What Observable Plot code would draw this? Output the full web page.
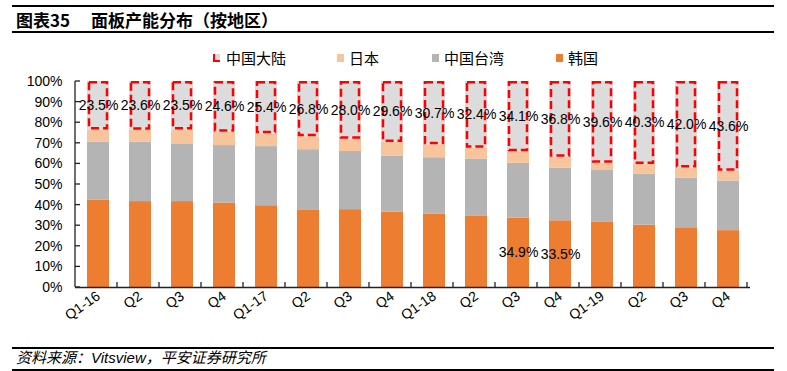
<!DOCTYPE html>
<html><head><meta charset="utf-8">
<script src="https://cdn.jsdelivr.net/npm/d3@7"></script>
<script src="https://cdn.jsdelivr.net/npm/@observablehq/plot@0.6"></script>
<style>
body{margin:0;background:#fff;}
#wrap{position:relative;width:787px;height:371px;overflow:hidden;font-family:"Liberation Sans",Arial,"Noto Sans CJK SC",sans-serif;color:#000;}
#chart{position:absolute;left:0;top:0;}
.hline{position:absolute;left:12px;width:762px;background:#000;}
#title{position:absolute;left:16px;top:8px;font-family:"Noto Sans CJK SC",sans-serif;font-weight:bold;font-size:17px;line-height:24px;white-space:pre;}
#source{position:absolute;left:16px;top:348px;font-family:"Liberation Sans","Noto Sans CJK SC",sans-serif;font-style:italic;font-size:15px;line-height:20px;white-space:pre;}
.leg{position:absolute;top:48px;font-family:"Noto Sans CJK SC",sans-serif;font-size:15px;line-height:20px;white-space:nowrap;}
.sw{position:absolute;width:7px;height:8px;}
</style></head><body>
<div id="wrap">
  <div class="hline" style="top:5px;height:2px"></div>
  <div id="title"></div>
  <div class="hline" style="top:31px;height:2px"></div>
  <div id="legend"></div>
  <div id="chart"></div>
  <div class="hline" style="top:347px;height:2px"></div>
  <div id="source"></div>
  <div class="hline" style="top:368.5px;height:2px"></div>
</div>
<script>
const titleText = "图表35\u3000 面板产能分布（按地区）";
const sourceText = "资料来源：Vitsview，平安证券研究所";
const periods = ["16Q1","16Q2","16Q3","16Q4","17Q1","17Q2","17Q3","17Q4","18Q1","18Q2","18Q3","18Q4","19Q1","19Q2","19Q3","19Q4"];
const tickLabels = ["Q1-16","Q2","Q3","Q4","Q1-17","Q2","Q3","Q4","Q1-18","Q2","Q3","Q4","Q1-19","Q2","Q3","Q4"];
const regions = ["韩国","中国台湾","日本","中国大陆"];
const legendOrder = ["中国大陆","日本","中国台湾","韩国"];
const colors = ["#ED7D31","#B4B4B4","#F8C49C","#DCDCDC"];
const korea  = [42.5,41.7,41.7,41.0,39.7,37.7,37.8,36.5,35.7,34.5,33.7,32.4,31.6,30.3,29.0,27.6];
const taiwan = [28.0,28.8,28.0,27.9,28.7,29.2,28.2,27.2,27.3,27.9,26.6,25.5,25.5,24.8,24.0,24.1];
const japan  = [6.0,5.9,6.8,6.5,6.2,6.3,6.0,6.7,6.3,5.2,5.6,5.3,3.3,4.6,5.0,4.7];
const china  = [23.5,23.6,23.5,24.6,25.4,26.8,28.0,29.6,30.7,32.4,34.1,36.8,39.6,40.3,42.0,43.6];
const koreaLabelPeriods = ["18Q3","18Q4"];
const koreaLabelValues = [34.9,33.5];
const yTicks = [0,10,20,30,40,50,60,70,80,90,100];

document.getElementById("title").textContent = titleText;
document.getElementById("source").textContent = sourceText;

// legend
const legendX = [213,337,432,556];
const legend = document.getElementById("legend");
legendOrder.forEach((r,i)=>{
  const el = document.createElement("div");
  el.className = "leg";
  el.style.left = (legendX[i]) + "px";
  const sw = document.createElement("span");
  sw.className = "sw";
  sw.style.left = "0px"; sw.style.top = "6px";
  if (r === "中国大陆") {
    sw.style.width = "5px"; sw.style.height = "6px";
    sw.style.borderLeft = "2.5px solid #FF0000";
    sw.style.borderBottom = "2.5px solid #FF0000";
    sw.style.background = "#DCDCDC";
  } else {
    sw.style.background = colors[regions.indexOf(r)];
  }
  el.appendChild(sw);
  const tx = document.createElement("span");
  tx.textContent = r;
  tx.style.marginLeft = (r === "中国大陆" ? 13 : 12) + "px";
  el.appendChild(tx);
  legend.appendChild(el);
});

const series = [korea, taiwan, japan, china];
const rows = [];
periods.forEach((p,i)=>{
  regions.forEach((r,j)=>rows.push({period:p, region:r, value:series[j][i]}));
});
const chinaRows = periods.map((p,i)=>({period:p, v:china[i]}));
const koreaRows = koreaLabelPeriods.map((p,i)=>({period:p, v:koreaLabelValues[i], k:korea[periods.indexOf(p)]}));

const chart = Plot.plot({
  width: 787, height: 371,
  marginLeft: 75, marginRight: 37, marginTop: 81, marginBottom: 84,
  style: {fontFamily: '"Liberation Sans", Arial, sans-serif', fontSize: "14px", color: "#000", background: "transparent"},
  x: {domain: periods, paddingInner: 0.48, paddingOuter: 0.24, label: null},
  y: {domain: [0,100], label: null},
  color: {domain: regions, range: colors},
  marks: [
    Plot.barY(rows, {x:"period", y:"value", fill:"region", order: regions}),
    Plot.barY(chinaRows, {x:"period", y1: d=>100-d.v, y2: ()=>100, fill:"none", stroke:"#FF0000", strokeWidth:2.5, strokeDasharray:"8,4", insetLeft:2, insetRight:2, insetTop:1.2, insetBottom:1.2}),
    Plot.text(chinaRows, {x:"period", y: d=>100-d.v/2, text: d=>d.v.toFixed(1)+"%", fontSize:14, fill:"#000"}),
    Plot.text(koreaRows, {x:"period", y: d=>d.k/2, text: d=>d.v.toFixed(1)+"%", fontSize:14, fill:"#000"}),
    Plot.axisY({ticks: yTicks, tickFormat: d=>d+"%", tickSize:0, tickPadding:13, fontSize:14}),
    Plot.axisX({tickSize:0, tickPadding:7, tickRotate:-35, fontSize:14, tickFormat: d=>tickLabels[periods.indexOf(d)]}),
    Plot.ruleY([0], {stroke:"#222", strokeWidth:1.5})
  ]
});
document.getElementById("chart").appendChild(chart);

// axis line and tick marks from the scales
const xs = chart.scale("x"), ys = chart.scale("y");
const svg = d3.select(chart);
const g = svg.append("g").attr("stroke","#222").attr("stroke-width",1.3);
const y0 = ys.apply(0), y100 = ys.apply(100);
const leftX = xs.range[0];
g.append("line").attr("x1",leftX).attr("x2",leftX).attr("y1",y0).attr("y2",y100);
yTicks.forEach(t=>{
  const y = ys.apply(t);
  g.append("line").attr("x1",leftX).attr("x2",leftX+5).attr("y1",y).attr("y2",y);
});
periods.forEach((p,i)=>{
  const x = leftX + (i+1)*xs.step;
  g.append("line").attr("x1",x).attr("x2",x).attr("y1",y0).attr("y2",y0-5);
});
</script>
</body></html>
